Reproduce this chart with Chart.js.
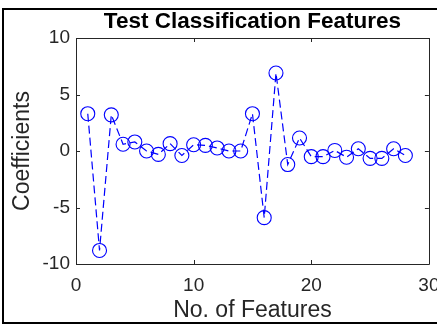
<!DOCTYPE html>
<html>
<head>
<meta charset="utf-8">
<script src="https://cdn.jsdelivr.net/npm/chart.js@4"></script>
<style>
  html, body { margin: 0; padding: 0; background: #fff; overflow: hidden; }
  #wrap { position: relative; width: 437px; height: 324px; overflow: hidden; }
  #frame {
    position: absolute; left: 2px; top: 8px; width: 460px; height: 312px;
    border-left: 2px solid #000; border-top: 2px solid #000; border-bottom: 2px solid #000;
    border-right: none;
    pointer-events: none;
  }
  canvas { position: absolute; left: 0; top: 0; }
</style>
</head>
<body>
<div id="wrap">
  <canvas id="chart" width="437" height="324"></canvas>
  <div id="frame"></div>
</div>
<script>
// Daten
const features = [1, 2, 3, 4, 5, 6, 7, 8, 9, 10, 11, 12, 13, 14, 15, 16, 17, 18, 19, 20, 21, 22, 23, 24, 25, 26, 27, 28];
const coefficients = [3.3, -8.8, 3.2, 0.6, 0.8, 0.0, -0.3, 0.65, -0.4, 0.55, 0.5, 0.27, 0.0, 0.0,
  3.3, -5.9, 6.9, -1.2, 1.15, -0.5, -0.5, 0.05, -0.55, 0.2, -0.65, -0.65, 0.2, -0.4];
const xTicks = [0, 10, 20, 30];
const yTicks = [-10, -5, 0, 5, 10];

const axisColor = '#262626';
const fontFamily = "'Liberation Sans', Arial, sans-serif";

// Rahmen + Ticks nach innen (MATLAB-Stil)
const boxPlugin = {
  id: 'box',
  afterDraw(chart) {
    const { ctx, chartArea: a, scales } = chart;
    const len = 4;
    ctx.save();
    ctx.strokeStyle = axisColor;
    ctx.lineWidth = 1;
    ctx.beginPath();
    ctx.rect(Math.round(a.left) + 0.5, Math.round(a.top) + 0.5,
      Math.round(a.right - a.left), Math.round(a.bottom - a.top));
    xTicks.forEach(v => {
      const x = Math.round(scales.x.getPixelForValue(v)) + 0.5;
      ctx.moveTo(x, a.bottom); ctx.lineTo(x, a.bottom - len);
      ctx.moveTo(x, a.top); ctx.lineTo(x, a.top + len);
    });
    yTicks.forEach(v => {
      const y = Math.round(scales.y.getPixelForValue(v)) + 0.5;
      ctx.moveTo(a.left, y); ctx.lineTo(a.left + len, y);
      ctx.moveTo(a.right, y); ctx.lineTo(a.right - len, y);
    });
    ctx.stroke();
    ctx.restore();
  }
};

new Chart(document.getElementById('chart'), {
  type: 'line',
  data: {
    datasets: [{
      data: features.map((f, i) => ({ x: f, y: coefficients[i] })),
      borderColor: '#0000ff',
      borderWidth: 1.2,
      borderDash: [8, 4],
      pointStyle: 'circle',
      pointRadius: 7,
      pointBorderColor: '#0000ff',
      pointBackgroundColor: 'rgba(0,0,0,0)',
      pointBorderWidth: 1.1,
      tension: 0
    }]
  },
  options: {
    responsive: false,
    animation: false,
    devicePixelRatio: 1,
    layout: { padding: 0 },
    plugins: {
      legend: { display: false },
      tooltip: { enabled: false },
      title: {
        display: true,
        text: 'Test Classification Features',
        fullSize: false,
        color: '#000',
        font: { family: fontFamily, size: 22.5, weight: 'bold' },
        padding: { top: 8, bottom: 3 }
      }
    },
    scales: {
      x: {
        type: 'linear',
        min: 0, max: 30,
        grid: { display: false, drawTicks: false },
        border: { display: false },
        afterBuildTicks: s => { s.ticks = xTicks.map(v => ({ value: v })); },
        afterFit: s => { s.height = 60; s.paddingLeft = 0; s.paddingRight = 7; },
        ticks: {
          color: axisColor, padding: 10, maxRotation: 0,
          font: { family: fontFamily, size: 19 }
        },
        title: {
          display: true, text: 'No. of Features', color: axisColor,
          font: { family: fontFamily, size: 23 },
          padding: { top: 0, bottom: 0 }
        }
      },
      y: {
        min: -10, max: 10,
        grid: { display: false, drawTicks: false },
        border: { display: false },
        afterBuildTicks: s => { s.ticks = yTicks.map(v => ({ value: v })); },
        afterFit: s => { s.width = 76; s.paddingTop = 0; s.paddingBottom = 0; },
        ticks: {
          color: axisColor, padding: 6,
          font: { family: fontFamily, size: 19 }
        },
        title: {
          display: true, text: 'Coefficients', color: axisColor,
          font: { family: fontFamily, size: 23 },
          padding: { top: 9, bottom: 0 }
        }
      }
    }
  },
  plugins: [boxPlugin]
});
</script>
</body>
</html>
